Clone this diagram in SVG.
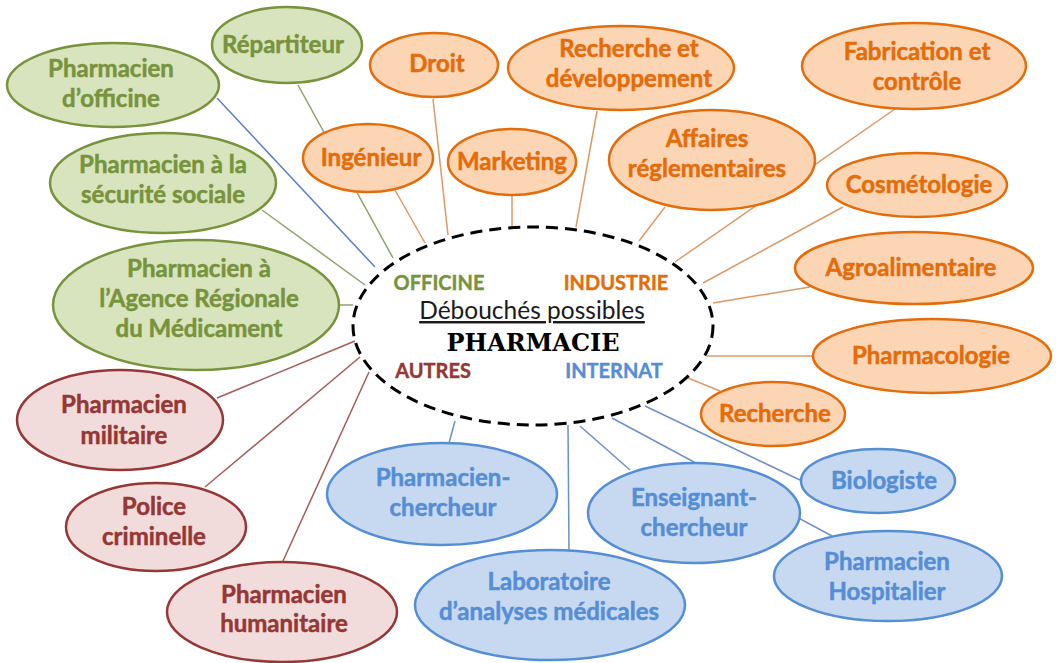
<svg xmlns="http://www.w3.org/2000/svg" width="1057" height="663" viewBox="0 0 1057 663">
<style>
  .node text { font-family: Lato, "Open Sans", "Liberation Sans", sans-serif; font-weight: bold; font-size: 24px; text-anchor: middle; stroke-width: 0.5; }
  .g ellipse { fill: #D7E4BD; stroke: #77933C; stroke-width: 2.5; }
  .g text { fill: #77933C; stroke: #77933C; }
  .o ellipse { fill: #FCD5B5; stroke: #E46C0A; stroke-width: 2.5; }
  .o text { fill: #E46C0A; stroke: #E46C0A; }
  .r ellipse { fill: #F2DCDB; stroke: #953735; stroke-width: 2.5; }
  .r text { fill: #953735; stroke: #953735; }
  .b ellipse { fill: #C6D9F1; stroke: #558ED5; stroke-width: 2.5; }
  .b text { fill: #558ED5; stroke: #558ED5; }
  .connectors line { stroke-width: 1.5; fill: none; }
  .cg { stroke: #8EA36A; }
  .co { stroke: #DC9A66; }
  .cr { stroke: #A45C5A; }
  .cb { stroke: #6D90C6; }
  .cblue { stroke: #5B7FC0; }
  .cat { font-family: Lato, "Open Sans", "Liberation Sans", sans-serif; font-weight: bold; font-size: 20px; text-anchor: middle; stroke-width: 0.4; }
</style>
<rect width="1057" height="663" fill="#FFFFFF"/>
<g id="connectors" class="connectors">
  <line class="cblue" x1="217" y1="98" x2="375" y2="267"/>
  <line class="cg" x1="298" y1="85" x2="393" y2="258"/>
  <line class="cg" x1="262" y1="210" x2="365" y2="285"/>
  <line class="cg" x1="338" y1="305" x2="353" y2="305"/>
  <line class="co" x1="395" y1="190" x2="425" y2="243"/>
  <line class="co" x1="433" y1="99" x2="448" y2="235"/>
  <line class="co" x1="512" y1="195" x2="512" y2="227"/>
  <line class="co" x1="597" y1="111" x2="576" y2="227"/>
  <line class="co" x1="665" y1="207" x2="639" y2="241"/>
  <line class="co" x1="895" y1="109" x2="675" y2="262"/>
  <line class="co" x1="843" y1="207" x2="703" y2="283"/>
  <line class="co" x1="810" y1="287" x2="713" y2="303"/>
  <line class="co" x1="813" y1="356" x2="707" y2="356"/>
  <line class="co" x1="683" y1="376" x2="720" y2="391"/>
  <line class="cb" x1="645" y1="406" x2="800" y2="480"/>
  <line class="cb" x1="612" y1="418" x2="832" y2="536"/>
  <line class="cb" x1="580" y1="426" x2="630" y2="470"/>
  <line class="cb" x1="568" y1="425" x2="569" y2="550"/>
  <line class="cb" x1="455" y1="421" x2="449" y2="443"/>
  <line class="cr" x1="217" y1="398" x2="355" y2="341"/>
  <line class="cr" x1="205" y1="487" x2="360" y2="357"/>
  <line class="cr" x1="283" y1="561" x2="369" y2="372"/>
</g>
<g id="center">
  <ellipse cx="533" cy="326" rx="180" ry="99" fill="#FFFFFF" stroke="#000000" stroke-width="3" stroke-dasharray="12 7"/>
  <text class="cat" x="439" y="290" fill="#77933C" stroke="#77933C">OFFICINE</text>
  <text class="cat" x="616" y="290" fill="#E46C0A" stroke="#E46C0A">INDUSTRIE</text>
  <text x="532" y="319" font-family="Lato, 'Open Sans', 'Liberation Sans', sans-serif" font-size="24.5" text-anchor="middle" fill="#1A1A1A" text-decoration="underline">Débouchés possibles</text>
  <text x="533" y="351" font-family="'DejaVu Serif', 'Liberation Serif', serif" font-weight="bold" font-size="24" text-anchor="middle" fill="#000000">PHARMACIE</text>
  <text class="cat" x="433" y="378" fill="#953735" stroke="#953735">AUTRES</text>
  <text class="cat" x="614" y="378" fill="#558ED5" stroke="#558ED5">INTERNAT</text>
</g>
<g id="n-repartiteur" class="node g"><ellipse cx="287" cy="45" rx="75" ry="38"/><text x="283" y="53">Répartiteur</text></g>
<g id="n-officine" class="node g"><ellipse cx="113" cy="85" rx="106" ry="42"/><text x="111" y="77">Pharmacien</text><text x="111" y="107">d’officine</text></g>
<g id="n-secu" class="node g"><ellipse cx="163" cy="183" rx="113" ry="50"/><text x="163" y="173">Pharmacien à la</text><text x="163" y="203">sécurité sociale</text></g>
<g id="n-ars" class="node g"><ellipse cx="196" cy="305" rx="143" ry="65"/><text x="199" y="277">Pharmacien à</text><text x="199" y="307">l’Agence Régionale</text><text x="199" y="337">du Médicament</text></g>
<g id="n-droit" class="node o"><ellipse cx="434" cy="65" rx="64" ry="32"/><text x="437" y="72">Droit</text></g>
<g id="n-rd" class="node o"><ellipse cx="621" cy="68" rx="113" ry="42"/><text x="629" y="57">Recherche et</text><text x="629" y="87">développement</text></g>
<g id="n-fab" class="node o"><ellipse cx="914" cy="66" rx="112" ry="43"/><text x="917" y="60">Fabrication et</text><text x="917" y="90">contrôle</text></g>
<g id="n-ingenieur" class="node o"><ellipse cx="368" cy="158" rx="65" ry="34"/><text x="371" y="166">Ingénieur</text></g>
<g id="n-marketing" class="node o"><ellipse cx="512" cy="162" rx="64" ry="33"/><text x="512" y="170">Marketing</text></g>
<g id="n-affaires" class="node o"><ellipse cx="712" cy="160" rx="103" ry="50"/><text x="707" y="147">Affaires</text><text x="707" y="177">réglementaires</text></g>
<g id="n-cosmeto" class="node o"><ellipse cx="917" cy="185" rx="90" ry="32"/><text x="919" y="193">Cosmétologie</text></g>
<g id="n-agro" class="node o"><ellipse cx="914" cy="268" rx="119" ry="36"/><text x="911" y="276">Agroalimentaire</text></g>
<g id="n-pharmaco" class="node o"><ellipse cx="932" cy="356" rx="119" ry="37"/><text x="931" y="364">Pharmacologie</text></g>
<g id="n-recherche" class="node o"><ellipse cx="773" cy="414" rx="72" ry="32"/><text x="775" y="422">Recherche</text></g>
<g id="n-biologiste" class="node b"><ellipse cx="878" cy="481" rx="77" ry="32"/><text x="884" y="489">Biologiste</text></g>
<g id="n-hospitalier" class="node b"><ellipse cx="888" cy="576" rx="114" ry="45"/><text x="887" y="570">Pharmacien</text><text x="887" y="600">Hospitalier</text></g>
<g id="n-enseignant" class="node b"><ellipse cx="694" cy="513" rx="106" ry="50"/><text x="694" y="506">Enseignant-</text><text x="694" y="536">chercheur</text></g>
<g id="n-pcherch" class="node b"><ellipse cx="442" cy="494" rx="115" ry="51"/><text x="443" y="486">Pharmacien-</text><text x="443" y="516">chercheur</text></g>
<g id="n-labo" class="node b"><ellipse cx="550" cy="605" rx="135" ry="55"/><text x="549" y="590">Laboratoire</text><text x="549" y="620">d’analyses médicales</text></g>
<g id="n-militaire" class="node r"><ellipse cx="120" cy="420" rx="103" ry="50"/><text x="124" y="413">Pharmacien</text><text x="124" y="444">militaire</text></g>
<g id="n-police" class="node r"><ellipse cx="156" cy="527" rx="90" ry="44"/><text x="154" y="515">Police</text><text x="154" y="545">criminelle</text></g>
<g id="n-humanitaire" class="node r"><ellipse cx="282" cy="612" rx="115" ry="50"/><text x="284" y="603">Pharmacien</text><text x="284" y="632">humanitaire</text></g>
</svg>
